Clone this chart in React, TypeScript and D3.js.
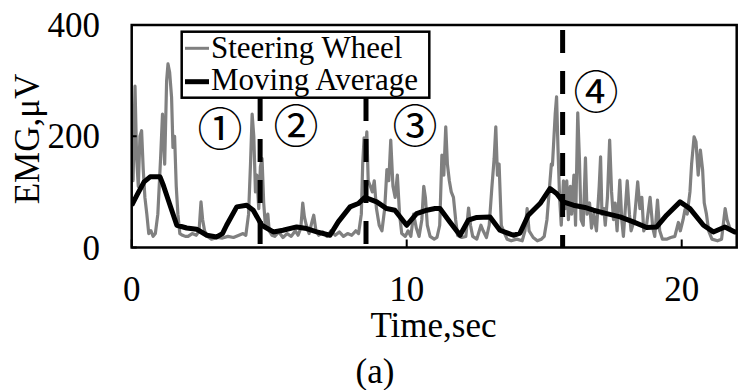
import React from "react";
import * as d3 from "d3";

// Raw EMG signal measured at the steering wheel: [time (s), amplitude (µV)]
const steeringWheel: [number, number][] = [
  [0.0, 150], [0.05, 120], [0.12, 290], [0.18, 160], [0.24, 110], [0.3, 200], [0.36, 210],
  [0.42, 140], [0.48, 90], [0.55, 60], [0.62, 25], [0.7, 30], [0.78, 20], [0.86, 25],
  [0.95, 60], [1.05, 160], [1.12, 240], [1.2, 150], [1.27, 300], [1.32, 330], [1.38, 315],
  [1.45, 270], [1.5, 180], [1.56, 200], [1.62, 110], [1.68, 60], [1.75, 25], [1.85, 22],
  [1.95, 20], [2.05, 20], [2.2, 25], [2.35, 22], [2.45, 30], [2.52, 82], [2.58, 50],
  [2.65, 30], [2.75, 20], [2.9, 15], [3.1, 18], [3.3, 17], [3.5, 20], [3.7, 18], [3.9, 22],
  [4.05, 25], [4.15, 22], [4.25, 60], [4.32, 150], [4.38, 240], [4.44, 200], [4.5, 100],
  [4.55, 130], [4.62, 70], [4.68, 145], [4.74, 160], [4.8, 80], [4.86, 40], [4.95, 60],
  [5.0, 30], [5.1, 22], [5.2, 20], [5.35, 28], [5.5, 18], [5.65, 25], [5.8, 20], [5.95, 30],
  [6.05, 22], [6.15, 35], [6.22, 80], [6.28, 55], [6.35, 40], [6.45, 25], [6.55, 45],
  [6.62, 58], [6.7, 30], [6.8, 22], [6.95, 28], [7.1, 20], [7.25, 30], [7.4, 22], [7.55, 28],
  [7.7, 20], [7.85, 25], [8.0, 22], [8.15, 30], [8.25, 25], [8.35, 60], [8.4, 150],
  [8.45, 197], [8.5, 170], [8.55, 208], [8.6, 120], [8.68, 110], [8.75, 100], [8.82, 120],
  [8.9, 70], [9.0, 40], [9.1, 30], [9.2, 70], [9.28, 140], [9.35, 120], [9.42, 193],
  [9.5, 110], [9.58, 90], [9.66, 130], [9.74, 60], [9.82, 25], [9.95, 20], [10.05, 30],
  [10.15, 20], [10.25, 60], [10.35, 35], [10.45, 20], [10.55, 50], [10.62, 110], [10.68, 90],
  [10.75, 40], [10.85, 20], [11.0, 15], [11.1, 18], [11.2, 40], [11.28, 166], [11.35, 130],
  [11.42, 217], [11.48, 150], [11.55, 120], [11.62, 100], [11.7, 90], [11.78, 50],
  [11.85, 22], [12.0, 18], [12.15, 20], [12.25, 71], [12.32, 40], [12.4, 20], [12.55, 15],
  [12.7, 40], [12.78, 30], [12.9, 18], [13.0, 40], [13.1, 110], [13.18, 160], [13.24, 217],
  [13.3, 130], [13.36, 150], [13.44, 40], [13.52, 30], [13.65, 15], [13.8, 12], [14.0, 15],
  [14.2, 12], [14.3, 30], [14.38, 70], [14.45, 30], [14.6, 18], [14.75, 12], [14.9, 15],
  [15.0, 20], [15.1, 50], [15.18, 100], [15.26, 150], [15.3, 148], [15.4, 240], [15.45, 271],
  [15.5, 180], [15.56, 90], [15.62, 40], [15.7, 120], [15.76, 70], [15.82, 120], [15.88, 50],
  [15.95, 110], [16.0, 60], [16.08, 130], [16.14, 40], [16.22, 242], [16.28, 160],
  [16.34, 50], [16.42, 40], [16.5, 161], [16.56, 60], [16.65, 80], [16.72, 35], [16.8, 60],
  [16.9, 30], [17.0, 110], [17.05, 163], [17.1, 60], [17.17, 70], [17.22, 40], [17.3, 90],
  [17.38, 193], [17.45, 100], [17.52, 50], [17.58, 80], [17.65, 30], [17.75, 121],
  [17.82, 50], [17.88, 20], [18.02, 120], [18.1, 60], [18.16, 30], [18.28, 50], [18.4, 118],
  [18.48, 70], [18.55, 90], [18.62, 30], [18.72, 40], [18.85, 90], [18.95, 35], [19.02, 20],
  [19.12, 85], [19.2, 30], [19.3, 15], [19.45, 15], [19.6, 18], [19.75, 20], [19.88, 45],
  [19.95, 30], [20.05, 50], [20.12, 68], [20.2, 60], [20.3, 100], [20.36, 150], [20.45, 199],
  [20.52, 190], [20.6, 130], [20.68, 175], [20.76, 140], [20.82, 80], [20.9, 60], [20.98, 30],
  [21.1, 15], [21.3, 12], [21.45, 15], [21.58, 70], [21.65, 50], [21.75, 35], [21.85, 30],
  [22.0, 28],
];

// Smoothed envelope of the same signal: [time (s), amplitude (µV)]
const movingAverage: [number, number][] = [
  [0.0, 76], [0.2, 95], [0.45, 118], [0.67, 127], [1.03, 127], [1.15, 112], [1.4, 75],
  [1.64, 40], [2.0, 35], [2.36, 33], [2.73, 22], [3.09, 19], [3.3, 25], [3.45, 40],
  [3.82, 73], [4.18, 76], [4.42, 67], [4.73, 40], [5.15, 28], [5.5, 31], [6.0, 37],
  [6.36, 34], [6.73, 28], [7.21, 22], [7.51, 46], [7.94, 73], [8.24, 79], [8.48, 90],
  [8.91, 82], [9.27, 70], [9.57, 67], [10.0, 40], [10.36, 61], [10.73, 67], [11.03, 70],
  [11.21, 70], [11.57, 46], [11.94, 22], [12.24, 49], [12.55, 54], [13.03, 55], [13.39, 31],
  [13.88, 22], [14.12, 26], [14.42, 58], [14.85, 79], [15.21, 106], [15.45, 97], [15.69, 82],
  [16.06, 76], [16.48, 72], [16.79, 67], [17.27, 61], [17.76, 55], [18.24, 46], [18.73, 36],
  [19.09, 37], [19.45, 58], [19.94, 82], [20.3, 70], [20.79, 40], [21.15, 28], [21.57, 37],
  [21.93, 28], [22.0, 28],
];

// Boundaries between driving phases (s) and the phase markers
const phaseBoundaries: { t: number; top: number }[] = [
  { t: 4.67, top: 98 },
  { t: 8.52, top: 98 },
  { t: 15.67, top: 30 },
];
const phaseLabels: { text: string; x: number; y: number }[] = [
  { text: "①", x: 220, y: 130 },
  { text: "②", x: 296, y: 127 },
  { text: "③", x: 415, y: 127 },
  { text: "④", x: 596, y: 93 },
];

const xTicks = [0, 10, 20];
const yTicks = [0, 200, 400];

const W = 741;
const H = 390;
const plot = { left: 131.7, right: 736.7, top: 25, bottom: 247.5 };
const serif = "'Liberation Serif', 'Times New Roman', serif";

export default function App() {
  const x = d3.scaleLinear().domain([0, 22]).range([plot.left, plot.right]);
  const y = d3.scaleLinear().domain([0, 400]).range([plot.bottom, plot.top]);
  const line = d3
    .line<[number, number]>()
    .x((d) => x(d[0]))
    .y((d) => y(d[1]));

  return (
    <div style={{ position: "absolute", left: 0, top: 0 }}>
      <svg width={W} height={H} style={{ display: "block", background: "#fff" }}>
        <defs>
          <clipPath id="plotClip">
            <rect x={plot.left} y={plot.top} width={plot.right - plot.left} height={plot.bottom - plot.top} />
          </clipPath>
        </defs>

        <g clipPath="url(#plotClip)">
          <path d={line(steeringWheel) ?? ""} fill="none" stroke="#808080" strokeWidth={3.2} strokeLinejoin="round" />
          <path d={line(movingAverage) ?? ""} fill="none" stroke="#000" strokeWidth={5} strokeLinejoin="round" />
        </g>

        {phaseBoundaries.map((b, i) => (
          <line
            key={i}
            x1={x(b.t)}
            x2={x(b.t)}
            y1={b.top}
            y2={plot.bottom}
            stroke="#000"
            strokeWidth={5}
            strokeDasharray="23 18"
          />
        ))}

        {/* frame */}
        <rect
          x={plot.left}
          y={plot.top}
          width={plot.right - plot.left}
          height={plot.bottom - plot.top}
          fill="none"
          stroke="#000"
          strokeWidth={2.5}
        />

        {/* inner ticks */}
        {xTicks.map((t) => (
          <line key={"xt" + t} x1={x(t)} x2={x(t)} y1={plot.bottom} y2={plot.bottom - 8} stroke="#000" strokeWidth={2} />
        ))}
        {yTicks.map((t) => (
          <line key={"yt" + t} x1={plot.left} x2={plot.left + 5} y1={y(t)} y2={y(t)} stroke="#000" strokeWidth={2} />
        ))}

        {/* tick labels */}
        {xTicks.map((t) => (
          <text key={"xl" + t} x={x(t)} y={301} textAnchor="middle" fontFamily={serif} fontSize={35}>
            {t}
          </text>
        ))}
        {yTicks.map((t) => (
          <text key={"yl" + t} x={100} y={y(t) + 12} textAnchor="end" fontFamily={serif} fontSize={35}>
            {t}
          </text>
        ))}

        {/* axis titles */}
        <text x={433.5} y={337} textAnchor="middle" fontFamily={serif} fontSize={35}>
          Time,sec
        </text>
        <text
          transform={`translate(39, 139) rotate(-90)`}
          textAnchor="middle"
          fontFamily={serif}
          fontSize={35}
        >
          EMG,μV
        </text>
        <text x={375} y={383} textAnchor="middle" fontFamily={serif} fontSize={35}>
          (a)
        </text>

        {/* phase markers */}
        {phaseLabels.map((p) => (
          <text
            key={p.text}
            x={p.x}
            y={p.y}
            textAnchor="middle"
            dominantBaseline="central"
            fontFamily="'DejaVu Serif', 'Noto Sans CJK JP', serif"
            fontSize={45}
          >
            {p.text}
          </text>
        ))}

        {/* legend */}
        <rect x={181.7} y={31.7} width={247.6} height={66} fill="#fff" stroke="#000" strokeWidth={2.5} />
        <line x1={185} x2={209} y1={48.3} y2={48.3} stroke="#808080" strokeWidth={3} />
        <text x={211} y={58.3} fontFamily={serif} fontSize={31}>
          Steering Wheel
        </text>
        <line x1={185} x2={209} y1={81.7} y2={81.7} stroke="#000" strokeWidth={5} />
        <text x={211} y={90} fontFamily={serif} fontSize={31}>
          Moving Average
        </text>
      </svg>
    </div>
  );
}
